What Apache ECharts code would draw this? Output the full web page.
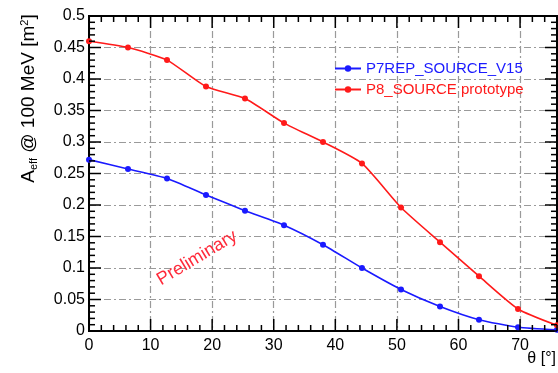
<!DOCTYPE html>
<html>
<head>
<meta charset="utf-8">
<script src="https://cdn.jsdelivr.net/npm/echarts@6/dist/echarts.min.js"></script>
<style>
  html, body { margin: 0; padding: 0; background: #fff; }
  #chart { width: 558px; height: 373px; }
</style>
</head>
<body>
<div id="chart"></div>
<script>
// theta bins (deg)
const theta = [0, 6.33, 12.67, 19, 25.33, 31.67, 38, 44.33, 50.67, 57, 63.33, 69.67, 76];
// effective area @ 100 MeV (m^2)
const p7rep = [0.272, 0.257, 0.242, 0.216, 0.191, 0.168, 0.137, 0.100, 0.066, 0.039, 0.018, 0.006, 0.002];
const p8 = [0.460, 0.450, 0.430, 0.388, 0.369, 0.330, 0.300, 0.266, 0.196, 0.141, 0.087, 0.035, 0.009];
const seriesNames = ['P7REP_SOURCE_V15', 'P8_SOURCE prototype'];
const xTicks = [0, 10, 20, 30, 40, 50, 60, 70];
const xMax = 76;
const yMax = 0.5;

const FONT = '"Liberation Sans", Arial, sans-serif';
const chart = echarts.init(document.getElementById('chart'));

const gridLine = { show: true, lineStyle: { color: '#9a9a9a', width: 1.2, type: [7, 3, 2, 3] } };

// text overlays
const texts = [
  {
    // x axis title, right-aligned under the axis end
    type: 'text', right: 2, top: 351,
    style: { text: 'θ [°]', fontFamily: FONT, fontSize: 16, fill: '#000' }
  },
  {
    type: 'text', x: 197, y: 258, rotation: Math.PI * 31 / 180,
    style: {
      text: 'Preliminary', fontFamily: FONT, fontSize: 18, fill: '#ff2a3a',
      align: 'center', verticalAlign: 'middle'
    }
  }
];

chart.setOption({
  animation: false,
  grid: {
    left: 89, right: 1, top: 16, bottom: 42, containLabel: false, outerBoundsMode: 'none',
    show: true, borderColor: '#000', borderWidth: 2, backgroundColor: 'transparent'
  },
  xAxis: {
    type: 'value', min: 0, max: xMax, interval: 10, z: -1,
    axisLine: { show: false }, axisTick: { show: false },
    axisLabel: {
      margin: 7, fontFamily: FONT, fontSize: 16, color: '#000', showMaxLabel: false,
      formatter: v => (xTicks.indexOf(v) >= 0 ? String(v) : '')
    },
    splitLine: gridLine
  },
  yAxis: {
    type: 'value', min: 0, max: yMax, interval: 0.05, z: -1,
    name: '{a|A}{s|eff} @ 100 MeV [m{p|2}]',
    nameLocation: 'middle', nameRotate: 90, nameGap: 50,
    nameTextStyle: {
      fontFamily: FONT, fontSize: 19, color: '#000', padding: [0, 0, 0, 150],
      rich: {
        a: { fontFamily: FONT, fontSize: 19, color: '#000' },
        s: { fontFamily: FONT, fontSize: 11, color: '#000', padding: [9, 0, 0, 0] },
        p: { fontFamily: FONT, fontSize: 11, color: '#000', padding: [0, 0, 9, 0] }
      }
    },
    axisLine: { show: false }, axisTick: { show: false },
    axisLabel: { margin: 4, fontFamily: FONT, fontSize: 16, color: '#000', formatter: v => String(+v.toFixed(2)) },
    splitLine: gridLine
  },
  legend: {
    orient: 'vertical',
    left: 329, top: 56,
    itemWidth: 26, itemHeight: 8, itemGap: 6,
    textStyle: { fontFamily: FONT, fontSize: 15 },
    data: [
      { name: seriesNames[0], textStyle: { color: '#1a1aff' } },
      { name: seriesNames[1], textStyle: { color: '#ff1a1a' } }
    ]
  },
  series: [
    {
      name: seriesNames[0], type: 'line',
      data: theta.map((t, i) => [t, p7rep[i]]),
      smooth: 0.2, symbol: 'circle', symbolSize: 6,
      lineStyle: { color: '#1a1aff', width: 1.6 },
      itemStyle: { color: '#1a1aff' }
    },
    {
      name: seriesNames[1], type: 'line',
      data: theta.map((t, i) => [t, p8[i]]),
      smooth: 0.2, symbol: 'circle', symbolSize: 6,
      lineStyle: { color: '#ff1a1a', width: 1.6 },
      itemStyle: { color: '#ff1a1a' }
    }
  ],
  graphic: { elements: texts }
});

// inward ticks on all four sides, placed through the axis scales
// (axisTick did not render in this setup)
function px(x, y) {
  return chart.convertToPixel({ xAxisIndex: 0, yAxisIndex: 0 }, [x, y]);
}
const tickStyle = { stroke: '#000', lineWidth: 1.5 };
const ticks = [];
function tick(x1, y1, x2, y2) {
  ticks.push({ type: 'line', z: 10, silent: true, shape: { x1: x1, y1: y1, x2: x2, y2: y2 }, style: tickStyle });
}
const bottomY = px(0, 0)[1];
const topY = px(0, yMax)[1];
const leftX = px(0, 0)[0];
const rightX = px(xMax, 0)[0];

for (let i = 0; i <= xMax / 2; i++) {
  const v = i * 2;
  const len = v % 10 === 0 ? 12 : 6;
  const x = px(v, 0)[0];
  tick(x, bottomY, x, bottomY - len);
  tick(x, topY, x, topY + len);
}
for (let i = 0; i <= 50; i++) {
  const v = i / 100;
  const len = i % 5 === 0 ? 12 : 6;
  const y = px(0, v)[1];
  tick(leftX, y, leftX + len, y);
  tick(rightX, y, rightX - len, y);
}

chart.setOption({ graphic: { elements: texts.concat(ticks) } });
</script>
</body>
</html>
